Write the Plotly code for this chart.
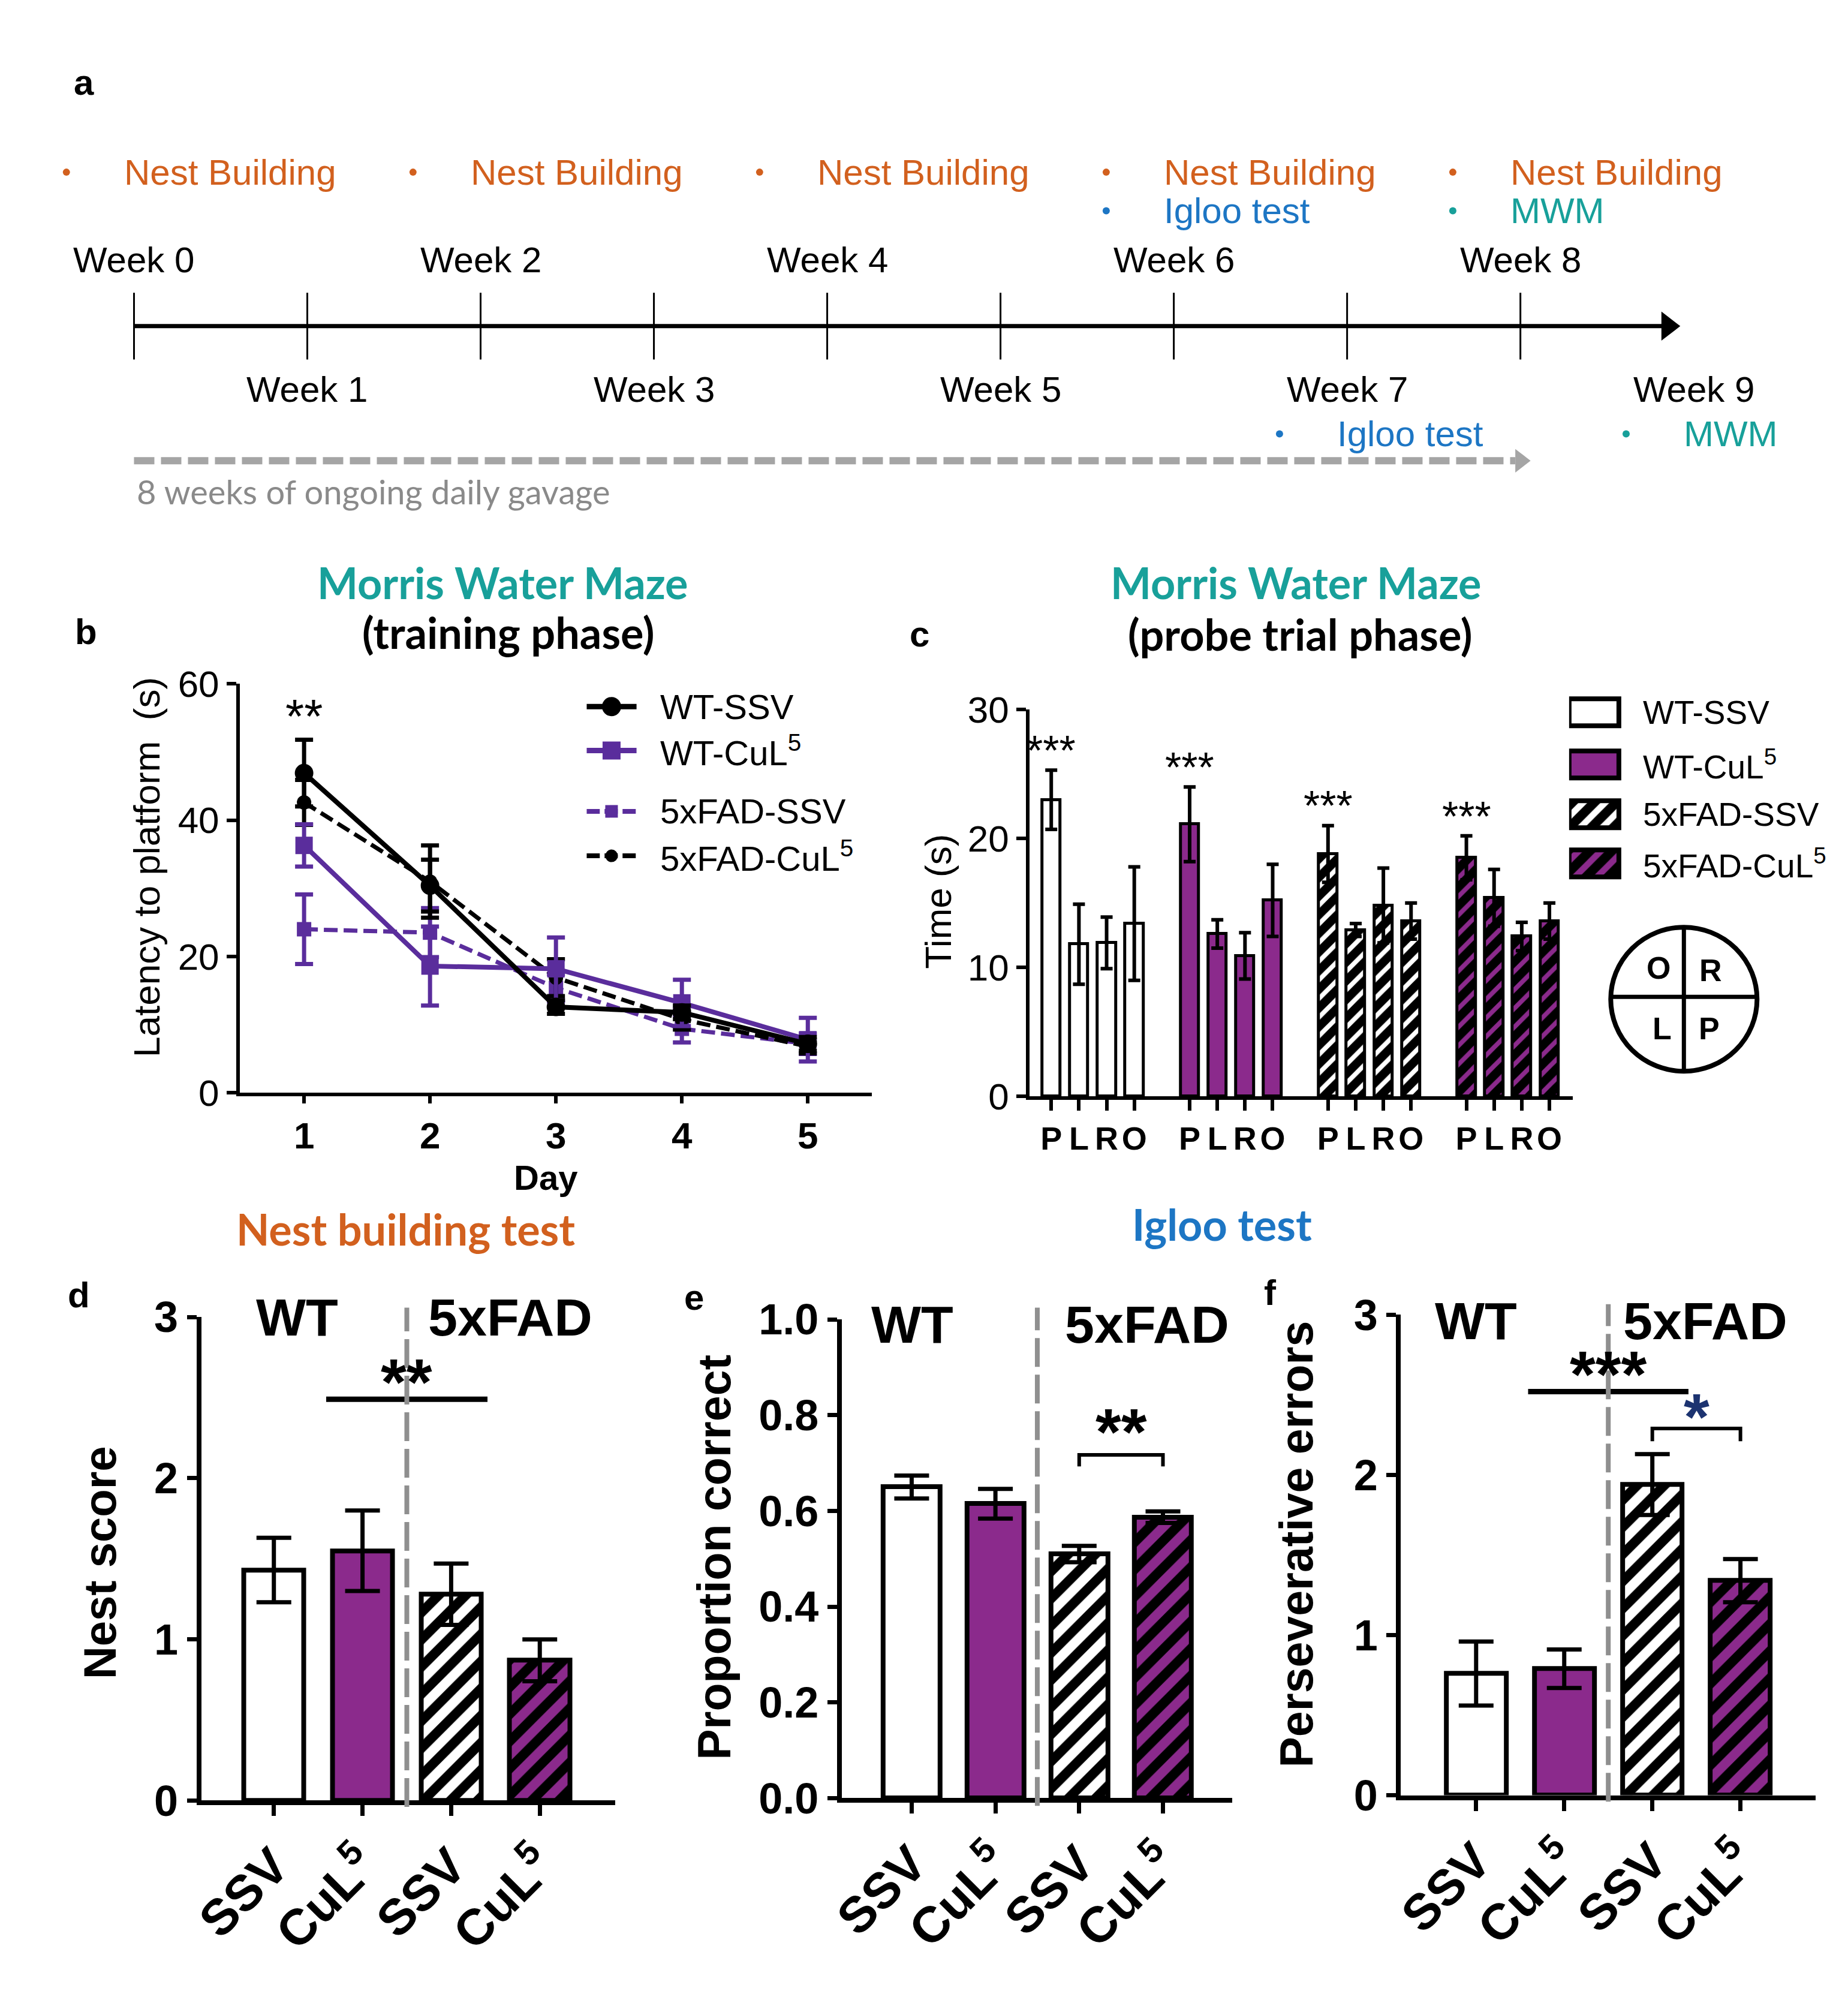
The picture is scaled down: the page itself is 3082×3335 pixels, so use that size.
import plotly.graph_objects as go

W, H = 3082, 3335

# ---------------- data ----------------
# a: study timeline
WEEKS = list(range(10))
TICK_WEEKS = list(range(9))
EVENT_WEEKS = [0, 2, 4, 6, 8, 6, 8, 7, 9]
EVENT_NAMES = ['Nest Building'] * 5 + ['Igloo test', 'MWM', 'Igloo test', 'MWM']
GAVAGE_SPAN = [0, 8]
GAVAGE_TEXT = '8 weeks of ongoing daily gavage'

# b: MWM training, latency to platform (s)
DAYS = [1, 2, 3, 4, 5]
B_NAMES = ['WT-SSV', 'WT-CuL<sup>5</sup>', '5xFAD-SSV', '5xFAD-CuL<sup>5</sup>']
B_WT_SSV = [46.9, 30.4, 12.6, 11.8, 7.2]
B_WT_SSV_SEM = [4.9, 3.8, 1.0, 1.0, 1.0]
B_WT_CUL = [36.3, 18.6, 18.2, 13.2, 7.8]
B_WT_CUL_SEM = [3.1, 5.8, 4.6, 3.4, 3.2]
B_FAD_SSV = [24.0, 23.5, 15.4, 9.4, 7.2]
B_FAD_SSV_SEM = [5.1, 3.6, 2.0, 2.0, 1.5]
B_FAD_CUL = [42.6, 31.0, 16.9, 10.8, 6.8]
B_FAD_CUL_SEM = [3.3, 5.3, 2.7, 1.5, 1.0]
B_YTICKS = [0, 20, 40, 60]
B_SIG_DAY, B_SIG_Y = 1, 56.5

# c: MWM probe trial, time in quadrant (s)
PROBE_QUAD = ['P', 'L', 'R', 'O']
C_WT_SSV = [23.0, 11.8, 11.9, 13.4]
C_WT_SSV_SEM = [2.3, 3.1, 2.0, 4.4]
C_WT_CUL = [21.1, 12.6, 10.9, 15.2]
C_WT_CUL_SEM = [2.9, 1.1, 1.8, 2.8]
C_FAD_SSV = [18.8, 12.9, 14.8, 13.6]
C_FAD_SSV_SEM = [2.2, 0.5, 2.9, 1.4]
C_FAD_CUL = [18.5, 15.4, 12.4, 13.6]
C_FAD_CUL_SEM = [1.7, 2.2, 1.1, 1.4]
C_YTICKS = [0, 10, 20, 30]
GROUP_STEP = 5

# d-f: nest building and igloo test
BAR_LABELS = ['SSV', 'CuL<sup>5</sup>', 'SSV', 'CuL<sup>5</sup>']
NEST = [1.43, 1.55, 1.28, 0.87]
NEST_SEM = [0.20, 0.25, 0.19, 0.13]
IGLOO_PROP = [0.65, 0.615, 0.51, 0.587]
IGLOO_PROP_SEM = [0.024, 0.031, 0.017, 0.012]
PERSEV = [0.76, 0.79, 1.94, 1.34]
PERSEV_SEM = [0.20, 0.12, 0.19, 0.135]
D_SIG_X, D_SIG_Y = [0.59, 2.41], 2.49
E_SIG_X, E_SIG_Y = [2, 3], 0.717
F_SIG1_X, F_SIG1_Y = [0.59, 2.41], 2.52
F_SIG2_X, F_SIG2_Y = [2, 3], 2.29

# ---------------- styles ----------------
ARIAL = 'Liberation Sans'
CAL = 'Lato'
PURPLE = '#8b2a8c'
VIOLET = '#5a2d9c'
TEAL = '#18a09a'
ORANGE = '#d2601e'
BLUE = '#1d76c4'
GREY = '#a5a5a5'
EVENT_COLORS = {'Nest Building': ORANGE, 'Igloo test': BLUE, 'MWM': TEAL}

# legend rows (pixel rows of the page)
LEG_B_ROWS = [1158, 1233, 1337, 1413]
LEG_C_ROWS = [1168, 1257, 1342, 1426]


def xp(px):
    return px / W


def yp(py):
    return 1 - py / H


def ann(text, x, y, size, color='black', family=ARIAL, bold=False,
        xanchor='center', yanchor='middle', xref='paper', yref='paper',
        angle=0, yshift=0):
    return dict(text=text, x=x, y=y, xref=xref, yref=yref, showarrow=False,
                font=dict(family=family, size=size, color=color,
                          weight='bold' if bold else 'normal'),
                xanchor=xanchor, yanchor=yanchor, textangle=angle, yshift=yshift)


def axis(domain, rng, **kw):
    d = dict(domain=domain, range=rng, showgrid=False, zeroline=False,
             showline=True, linecolor='black', ticks='outside',
             tickcolor='black', fixedrange=True)
    d.update(kw)
    return d


fig = go.Figure()
annotations = []
shapes = []

# ---------------- a: timeline ----------------
TL_Y = 508
tx, ty = [], []
for w in TICK_WEEKS:
    tx += [w, w, None]
    ty += [TL_Y - 57, TL_Y + 57, None]
fig.add_trace(go.Scatter(x=tx, y=ty, mode='lines', line=dict(color='black', width=3),
                         xaxis='x6', yaxis='y6', showlegend=False, hoverinfo='skip'))
arrow_end = WEEKS[-1] - 0.15
fig.add_trace(go.Scatter(x=[WEEKS[0], arrow_end], y=[TL_Y, TL_Y], mode='lines',
                         line=dict(color='black', width=7),
                         xaxis='x6', yaxis='y6', showlegend=False, hoverinfo='skip'))
fig.add_trace(go.Scatter(x=[arrow_end], y=[TL_Y], mode='markers',
                         marker=dict(symbol='triangle-right', size=42, color='black'),
                         xaxis='x6', yaxis='y6', showlegend=False, hoverinfo='skip'))
for w in WEEKS:
    annotations.append(ann('Week %d' % w, w, 395 if w % 2 == 0 else 616, 60,
                           xref='x6', yref='y6'))

# events: even weeks above the line (stacked), odd weeks below
stack = {}
for w, name in zip(EVENT_WEEKS, EVENT_NAMES):
    if w % 2 == 0:
        row = stack.get(w, 0)
        stack[w] = row + 1
        y = 245 + 66 * row
    else:
        y = 692
    col = EVENT_COLORS[name]
    fig.add_trace(go.Scatter(x=[w - 0.39], y=[y], mode='markers',
                             marker=dict(size=12, color=col),
                             xaxis='x6', yaxis='y6', showlegend=False, hoverinfo='skip'))
    annotations.append(ann(name, w - 0.065, y, 60, color=col, xanchor='left',
                           xref='x6', yref='y6'))

# gavage arrow
fig.add_trace(go.Scatter(x=[GAVAGE_SPAN[0], GAVAGE_SPAN[1] - 0.03], y=[738, 738], mode='lines',
                         line=dict(color=GREY, width=12, dash='34px,11px'),
                         xaxis='x6', yaxis='y6', showlegend=False, hoverinfo='skip'))
fig.add_trace(go.Scatter(x=[GAVAGE_SPAN[1]], y=[738], mode='markers',
                         marker=dict(symbol='triangle-right', size=34, color=GREY),
                         xaxis='x6', yaxis='y6', showlegend=False, hoverinfo='skip'))
annotations.append(ann(GAVAGE_TEXT, GAVAGE_SPAN[0] + 0.01, 790, 56, color='#8a8a8a',
                       family=CAL, xanchor='left', xref='x6', yref='y6'))

# ---------------- b: training latency ----------------
# name, mean, sem, colour, symbol, marker size, legend marker size, dash, line width
b_spec = [
    (B_NAMES[2], B_FAD_SSV, B_FAD_SSV_SEM, VIOLET, 'square', 24, 21, '23px,10px', 7),
    (B_NAMES[3], B_FAD_CUL, B_FAD_CUL_SEM, 'black', 'circle', 24, 21, '23px,10px', 7),
    (B_NAMES[1], B_WT_CUL, B_WT_CUL_SEM, VIOLET, 'square', 29, 30, 'solid', 8),
    (B_NAMES[0], B_WT_SSV, B_WT_SSV_SEM, 'black', 'circle', 31, 32, 'solid', 8),
]
for name, mean, sem, col, sym, size, lsize, dash, lw in b_spec:
    fig.add_trace(go.Scatter(
        x=DAYS, y=mean, mode='lines+markers', name=name,
        line=dict(color=col, width=lw, dash=dash),
        marker=dict(symbol=sym, size=size, color=col),
        error_y=dict(type='data', array=sem, color=col, thickness=7, width=15),
        xaxis='x', yaxis='y', showlegend=False))

# legend for b (drawn on its own small axis, y in page pixel rows)
for i, name in enumerate(B_NAMES):
    _, _, _, col, sym, size, lsize, dash, lw = [s for s in b_spec if s[0] == name][0]
    fig.add_trace(go.Scatter(x=[0, 1], y=[LEG_B_ROWS[i]] * 2, mode='lines',
                             line=dict(color=col, width=lw + 1,
                                       dash='22px,8px' if dash != 'solid' else 'solid'),
                             xaxis='x7', yaxis='y7', showlegend=False, hoverinfo='skip'))
    fig.add_trace(go.Scatter(x=[0.5], y=[LEG_B_ROWS[i]], mode='markers',
                             marker=dict(symbol=sym, size=lsize, color=col),
                             xaxis='x7', yaxis='y7', showlegend=False, hoverinfo='skip'))
    annotations.append(ann(name, 1.45, LEG_B_ROWS[i], 58, xanchor='left', xref='x7', yref='y7'))

annotations.append(ann('**', B_SIG_DAY, B_SIG_Y, 80, xref='x', yref='y', yshift=-15))

# ---------------- c: probe trial ----------------
c_spec = [
    (C_WT_SSV, C_WT_SSV_SEM, 'white', '', 'white'),
    (C_WT_CUL, C_WT_CUL_SEM, PURPLE, '', PURPLE),
    (C_FAD_SSV, C_FAD_SSV_SEM, 'black', '/', 'white'),
    (C_FAD_CUL, C_FAD_CUL_SEM, 'black', '/', PURPLE),
]
c_tickvals, c_ticktext = [], []
for g, (mean, sem, bg, shape, fg) in enumerate(c_spec):
    xs = [g * GROUP_STEP + i for i in range(len(PROBE_QUAD))]
    c_tickvals += xs
    c_ticktext += PROBE_QUAD
    fig.add_trace(go.Bar(
        x=xs, y=mean, width=0.66,
        marker=dict(color=bg, line=dict(color='black', width=5),
                    pattern=dict(shape=shape, bgcolor=bg, fgcolor=fg, fgopacity=1,
                                 size=22, solidity=0.35)),
        error_y=dict(type='data', array=sem, color='black', thickness=6, width=10),
        xaxis='x2', yaxis='y2', showlegend=False))
    # stars sit ~1.5 s above the P error bar
    annotations.append(ann('***', xs[0], mean[0] + sem[0] + 1.5, 70, xref='x2', yref='y2',
                           yshift=0))

    # legend key
    fig.add_trace(go.Bar(
        x=[1], y=[LEG_C_ROWS[g]], base=0, orientation='h', width=46,
        marker=dict(color=bg, line=dict(color='black', width=8),
                    pattern=dict(shape=shape, bgcolor=bg, fgcolor=fg, fgopacity=1,
                                 size=26, solidity=0.4)),
        xaxis='x8', yaxis='y8', showlegend=False, hoverinfo='skip'))
    annotations.append(ann(B_NAMES[g], 1.45, LEG_C_ROWS[g], 55, xanchor='left',
                           xref='x8', yref='y8'))

# quadrant diagram
cx, cy, r = 2798, 1658, 123
shapes.append(dict(type='circle', xref='paper', yref='paper', x0=xp(cx - r), x1=xp(cx + r),
                   y0=yp(cy + r), y1=yp(cy - r), line=dict(color='black', width=8)))
shapes.append(dict(type='line', xref='paper', yref='paper', x0=xp(cx - r), x1=xp(cx + r),
                   y0=yp(cy - 4), y1=yp(cy - 4), line=dict(color='black', width=7)))
shapes.append(dict(type='line', xref='paper', yref='paper', x0=xp(cx), x1=xp(cx),
                   y0=yp(cy + r), y1=yp(cy - r), line=dict(color='black', width=7)))
for lab, dx, dy in [('O', -43, -53), ('R', 45, -49), ('L', -37, 50), ('P', 43, 50)]:
    annotations.append(ann(lab, xp(cx + dx), yp(cy + dy), 52, bold=True))

# ---------------- d-f: bar panels ----------------
bar_fill = ['white', PURPLE, 'white', PURPLE]
bar_shape = ['', '', '/', '/']


def bar_panel(xa, ya, mean, sem):
    # one trace per bar so each keeps its own fill / hatch colours
    for i in range(len(mean)):
        fig.add_trace(go.Bar(
            x=[i], y=[mean[i]], width=0.68,
            marker=dict(color=bar_fill[i], line=dict(color='black', width=8),
                        pattern=dict(shape=bar_shape[i], bgcolor=bar_fill[i], fgcolor='black',
                                     fgopacity=1, size=32, solidity=0.5)),
            error_y=dict(type='data', array=[sem[i]], color='black', thickness=7, width=29),
            xaxis=xa, yaxis=ya, showlegend=False))


def sig_line(xa, ya, xs, y, drop=0.0, width=9):
    if drop:
        px_, py_ = [xs[0], xs[0], xs[1], xs[1]], [y - drop, y, y, y - drop]
    else:
        px_, py_ = xs, [y, y]
    fig.add_trace(go.Scatter(x=px_, y=py_, mode='lines', line=dict(color='black', width=width),
                             xaxis=xa, yaxis=ya, showlegend=False, hoverinfo='skip'))


def stars(text, xa, ya, x, y, lift, color='black'):
    # lift = gap (px) between the line and the centre of the asterisks
    annotations.append(ann(text, x, y, 110, bold=True, color=color, xref=xa, yref=ya,
                           yshift=lift - 6))


bar_panel('x3', 'y3', NEST, NEST_SEM)
bar_panel('x4', 'y4', IGLOO_PROP, IGLOO_PROP_SEM)
bar_panel('x5', 'y5', PERSEV, PERSEV_SEM)

sig_line('x3', 'y3', D_SIG_X, D_SIG_Y)
stars('**', 'x3', 'y3', sum(D_SIG_X) / 2, D_SIG_Y, 36)
sig_line('x4', 'y4', E_SIG_X, E_SIG_Y, drop=0.024, width=6)
stars('**', 'x4', 'y4', sum(E_SIG_X) / 2, E_SIG_Y, 46)
sig_line('x5', 'y5', F_SIG1_X, F_SIG1_Y)
stars('***', 'x5', 'y5', sum(F_SIG1_X) / 2, F_SIG1_Y, 36)
sig_line('x5', 'y5', F_SIG2_X, F_SIG2_Y, drop=0.08, width=6)
stars('*', 'x5', 'y5', sum(F_SIG2_X) / 2, F_SIG2_Y, 26, color='#1c3370')

# genotype separators and labels
for xa, top, bot in [('x3', 2185, 3038), ('x4', 2185, 3036), ('x5', 2179, 3029)]:
    shapes.append(dict(type='line', xref=xa, yref='paper', x0=1.5, x1=1.5,
                       y0=yp(bot), y1=yp(top),
                       line=dict(color='#8f8f8f', width=8, dash='48px,13px')))
for xa, ya, xwt, xfad, ytop in [('x3', 'y3', 0.26, 2.67, 3.0), ('x4', 'y4', 0.01, 2.81, 0.99),
                                 ('x5', 'y5', 0.0, 2.6, 2.96)]:
    annotations.append(ann('WT', xwt, ytop, 88, bold=True, xref=xa, yref=ya))
    annotations.append(ann('5xFAD', xfad, ytop, 88, bold=True, xref=xa, yref=ya))

# ---------------- titles and labels ----------------
annotations += [
    ann('a', xp(108), yp(92), 60, bold=True),
    ann('b', xp(111), yp(1030), 60, bold=True),
    ann('c', xp(1513), yp(1034), 60, bold=True),
    ann('d', xp(99), yp(2163), 60, bold=True),
    ann('e', xp(1134), yp(2167), 60, bold=True),
    ann('f', xp(2103), yp(2159), 60, bold=True),
    ann('Morris Water Maze', xp(812), yp(946), 72, color=TEAL, family=CAL, bold=True),
    ann('(training phase)', xp(822), yp(1031), 72, family=CAL, bold=True),
    ann('Morris Water Maze', xp(2146), yp(946), 72, color=TEAL, family=CAL, bold=True),
    ann('(probe trial phase)', xp(2153), yp(1034), 72, family=CAL, bold=True),
    ann('Nest building test', xp(649), yp(2050), 72, color=ORANGE, family=CAL, bold=True),
    ann('Igloo test', xp(2021), yp(2042), 72, color=BLUE, family=CAL, bold=True),
    ann('Latency to platform  (s)', xp(213), yp(1432), 62, angle=-90),
    ann('Day', xp(884), yp(1963), 58, bold=True),
    ann('Time (s)', xp(1544), yp(1491), 62, angle=-90),
    ann('Nest score', xp(134), yp(2620), 76, bold=True, angle=-90),
    ann('Proportion correct', xp(1168), yp(2612), 77, bold=True, angle=-90),
    ann('Perseverative errors', xp(2146), yp(2589), 77, bold=True, angle=-90),
]

bold_tick = dict(family=ARIAL, size=72, color='black', weight='bold')
xlab_font = dict(family=ARIAL, size=84, color='black', weight='bold')
hidden = dict(visible=False, fixedrange=True)

fig.update_layout(
    width=W, height=H, margin=dict(l=0, r=0, t=0, b=0),
    paper_bgcolor='white', plot_bgcolor='white', showlegend=False, bargap=0,
    barmode='overlay',
    annotations=annotations, shapes=shapes,
    # b
    xaxis=axis([xp(370), xp(1433)], [0.49, 5.51], anchor='y', linewidth=6, tickwidth=6,
               ticklen=12, tickvals=DAYS,
               tickfont=dict(family=ARIAL, size=62, color='black', weight='bold')),
    yaxis=axis([yp(1818), yp(1119)], [0, 60], anchor='x', linewidth=6, tickwidth=6,
               ticklen=16, tickvals=B_YTICKS, tickfont=dict(family=ARIAL, size=62, color='black')),
    # c
    xaxis2=axis([xp(1698), xp(2611)], [-0.78, 18.84], anchor='y2', linewidth=6, tickwidth=6,
                ticklen=18, tickvals=c_tickvals, ticktext=c_ticktext,
                tickfont=dict(family=ARIAL, size=54, color='black', weight='bold')),
    yaxis2=axis([yp(1824), yp(1163)], [0, 30], anchor='x2', linewidth=6, tickwidth=6,
                ticklen=16, tickvals=C_YTICKS, tickfont=dict(family=ARIAL, size=62, color='black')),
    # d
    xaxis3=axis([xp(305), xp(1001)], [-0.82, 3.85], anchor='y3', linewidth=8, tickwidth=7,
                ticklen=18, tickvals=list(range(4)), ticktext=BAR_LABELS, tickangle=-45,
                tickfont=xlab_font),
    yaxis3=axis([yp(3027), yp(2201)], [0, 3], anchor='x3', linewidth=8, tickwidth=7,
                ticklen=16, tickvals=[0, 1, 2, 3], tickfont=bold_tick),
    # e
    xaxis4=axis([xp(1382), xp(2039)], [-0.835, 3.83], anchor='y4', linewidth=8, tickwidth=7,
                ticklen=18, tickvals=list(range(4)), ticktext=BAR_LABELS, tickangle=-45,
                tickfont=xlab_font),
    yaxis4=axis([yp(3023), yp(2205)], [0, 1], anchor='x4', linewidth=8, tickwidth=7,
                ticklen=16, tickvals=[0, 0.2, 0.4, 0.6, 0.8, 1.0], tickformat='.1f',
                tickfont=bold_tick),
    # f
    xaxis5=axis([xp(2322), xp(3019)], [-0.855, 3.85], anchor='y5', linewidth=8, tickwidth=7,
                ticklen=18, tickvals=list(range(4)), ticktext=BAR_LABELS, tickangle=-45,
                tickfont=xlab_font),
    yaxis5=axis([yp(3018), yp(2197)], [0, 3], anchor='x5', linewidth=8, tickwidth=7,
                ticklen=16, tickvals=[0, 1, 2, 3], tickfont=bold_tick),
    # a (timeline, pixel-row y)
    xaxis6=dict(hidden, domain=[0, 1], range=[-0.659, 9.918], anchor='y6'),
    yaxis6=dict(hidden, domain=[yp(850), 1], range=[850, 0], anchor='x6'),
    # legends (1 x-unit = one key width; y in page pixel rows)
    xaxis7=dict(hidden, domain=[xp(953), xp(953 + 84 * 5)], range=[0, 5], anchor='y7'),
    yaxis7=dict(hidden, domain=[yp(1460), yp(1110)], range=[1460, 1110], anchor='x7'),
    xaxis8=dict(hidden, domain=[xp(2605), xp(2605 + 84 * 5.5)], range=[0, 5.5], anchor='y8'),
    yaxis8=dict(hidden, domain=[yp(1480), yp(1120)], range=[1480, 1120], anchor='x8'),
)

fig.write_html("out.html")
